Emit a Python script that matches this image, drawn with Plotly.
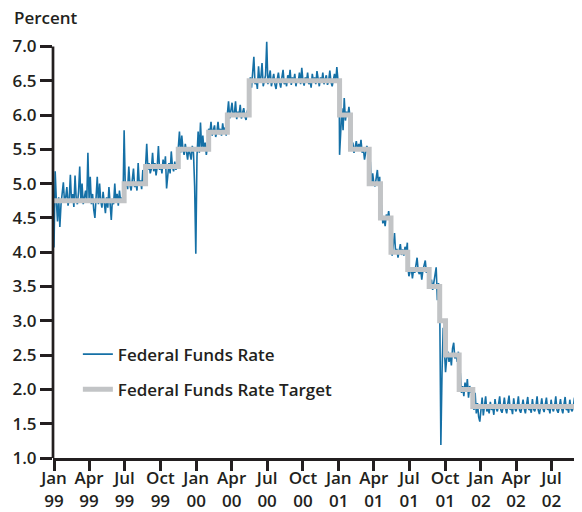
import pandas as pd
import plotly.graph_objects as go

# ---- Data ----
# Federal funds target changes (date the target took effect, level in percent)
target_dates = ["1999-01-01", "1999-06-30", "1999-08-24", "1999-11-16", "2000-02-02",
                "2000-03-21", "2000-05-16", "2001-01-03", "2001-01-31", "2001-03-20",
                "2001-04-18", "2001-05-15", "2001-06-27", "2001-08-21", "2001-09-17",
                "2001-10-02", "2001-11-06", "2001-12-11", "2002-09-17"]
target_values = [4.75, 5.00, 5.25, 5.50, 5.75, 6.00, 6.50, 6.00, 5.50, 5.00,
                 4.50, 4.00, 3.75, 3.50, 3.00, 2.50, 2.00, 1.75, 1.75]

# Effective federal funds rate, sampled every 3 days within each target period
rate_1999_h1 = [4.07, 5.18, 4.75, 4.45, 4.80, 4.37, 4.70, 4.85, 5.02, 4.72,
                4.80, 4.95, 4.68, 4.78, 5.13, 4.72, 4.85, 4.66, 5.12, 4.78,
                4.70, 4.88, 5.25, 4.74, 5.00, 4.70, 4.80, 4.90, 4.72, 5.45,
                4.78, 5.10, 4.70, 4.85, 4.62, 4.50, 4.80, 5.10, 4.70, 5.00,
                4.75, 4.65, 4.88, 4.72, 4.57, 4.80, 4.65, 4.95, 4.72, 4.47,
                4.78, 4.70, 5.00, 4.72, 4.85, 4.68, 4.90, 4.74, 4.80, 4.72]
rate_1999_jul = [5.78, 4.95, 5.02, 4.92, 5.25, 4.98, 4.90, 5.05, 5.22, 4.95,
                 5.02, 4.90, 5.30, 4.98, 5.05, 4.92, 5.20, 5.00, 5.10]
rate_1999_sep = [5.25, 5.58, 5.20, 5.30, 5.15, 5.22, 5.45, 5.18, 5.30, 5.12,
                 5.25, 5.55, 5.20, 5.28, 5.15, 5.35, 5.22, 5.40, 4.93, 5.20,
                 5.30, 5.15, 5.47, 5.25, 5.18, 5.32, 5.20, 5.28]
rate_1999_dec = [5.55, 5.76, 5.45, 5.70, 5.50, 5.42, 5.58, 5.48, 5.35, 5.52,
                 5.40, 5.35, 5.55, 5.45, 4.96, 3.98, 5.40, 5.76, 5.45, 5.89,
                 5.50, 5.70, 5.48, 5.60, 5.42, 5.55]
rate_2000_feb = [5.80, 5.72, 5.90, 5.70, 5.78, 5.85, 5.68, 5.75, 5.90, 5.72,
                 5.80, 5.70, 5.88, 5.74, 5.82, 5.70]
rate_2000_apr = [6.02, 6.20, 5.95, 6.05, 6.18, 5.98, 6.02, 6.20, 5.94, 6.05,
                 6.00, 6.15, 5.95, 6.03, 6.10, 5.98, 5.93, 6.05, 6.12]
rate_2000_h2 = [6.45, 6.55, 6.40, 6.60, 6.85, 6.45, 6.52, 6.38, 6.71, 6.48,
                6.55, 6.76, 6.42, 6.50, 6.58, 7.07, 6.45, 6.55, 6.65, 6.42,
                6.50, 6.60, 6.45, 6.38, 6.52, 6.62, 6.48, 6.40, 6.55, 6.66,
                6.45, 6.52, 6.42, 6.58, 6.50, 6.66, 6.44, 6.55, 6.48, 6.60,
                6.42, 6.52, 6.48, 6.62, 6.45, 6.69, 6.50, 6.43, 6.55, 6.48,
                6.62, 6.45, 6.52, 6.40, 6.60, 6.48, 6.55, 6.45, 6.64, 6.50,
                6.42, 6.55, 6.48, 6.62, 6.45, 6.52, 6.58, 6.44, 6.50, 6.65,
                6.48, 6.42, 6.55, 6.60, 6.47, 6.70, 6.50, 6.40]
rate_2001_jan = [5.42, 5.90, 6.10, 5.78, 6.25, 5.92, 6.05, 5.98, 6.12, 5.95]
rate_2001_feb = [5.55, 5.48, 5.60, 5.45, 5.52, 5.62, 5.48, 5.58, 5.50, 5.64,
                 5.45, 5.52, 5.35, 5.48, 5.55, 5.50]
rate_2001_apr = [5.05, 5.32, 4.98, 5.15, 5.00, 4.96, 5.08, 5.20, 4.98, 5.10]
rate_2001_may = [4.55, 4.69, 4.42, 4.50, 4.38, 4.55, 4.48, 4.60, 4.45]
rate_2001_jun = [4.05, 3.95, 4.10, 4.28, 3.98, 4.05, 3.92, 4.02, 4.12, 3.96,
                 4.04, 3.95, 4.08, 4.00, 4.14]
rate_2001_jul = [3.80, 3.65, 3.72, 3.78, 3.62, 3.75, 3.70, 3.85, 3.92, 3.72,
                 3.68, 3.76, 3.60, 3.74, 3.80, 3.88, 3.70, 3.75, 3.66]
rate_2001_aug = [3.55, 3.50, 3.60, 3.45, 3.55, 3.65, 3.78, 3.30, 3.55]
rate_2001_sep = [3.30, 1.19, 2.25, 2.90, 2.60]
rate_2001_oct = [2.25, 2.45, 2.55, 2.40, 2.50, 2.35, 2.60, 2.68, 2.45, 2.52,
                 2.40, 2.55]
rate_2001_nov = [2.10, 2.24, 1.95, 2.05, 1.90, 2.10, 1.98, 2.15, 1.88, 2.05,
                 1.95, 2.02]
rate_2002 = [1.85, 1.70, 1.95, 1.65, 1.80, 1.60, 1.53, 1.70, 1.88, 1.62,
             1.75, 1.90, 1.68, 1.72, 1.65, 1.82, 1.70, 1.74, 1.63, 1.86,
             1.72, 1.68, 1.78, 1.90, 1.70, 1.66, 1.75, 1.88, 1.72, 1.65,
             1.80, 1.91, 1.70, 1.74, 1.64, 1.87, 1.72, 1.68, 1.76, 1.90,
             1.70, 1.66, 1.74, 1.85, 1.72, 1.65, 1.78, 1.89, 1.70, 1.73,
             1.66, 1.86, 1.71, 1.68, 1.75, 1.90, 1.70, 1.64, 1.74, 1.87,
             1.72, 1.67, 1.78, 1.88, 1.70, 1.74, 1.65, 1.85, 1.72, 1.68,
             1.76, 1.90, 1.70, 1.66, 1.74, 1.86, 1.72, 1.65, 1.78, 1.89,
             1.70, 1.73, 1.66, 1.85, 1.71, 1.68, 1.75, 1.88, 1.70, 1.65,
             1.74, 1.86, 1.72, 1.70]

rate_segments = [rate_1999_h1, rate_1999_jul, rate_1999_sep, rate_1999_dec,
                 rate_2000_feb, rate_2000_apr, rate_2000_h2, rate_2001_jan,
                 rate_2001_feb, rate_2001_apr, rate_2001_may, rate_2001_jun,
                 rate_2001_jul, rate_2001_aug, rate_2001_sep, rate_2001_oct,
                 rate_2001_nov, rate_2002]

tick_dates = pd.date_range("1999-01-01", "2002-07-01", freq="QS")
tick_labels = [f"{d.strftime('%b')}<br>{d.strftime('%y')}" for d in tick_dates]
y_ticks = [1.0, 1.5, 2.0, 2.5, 3.0, 3.5, 4.0, 4.5, 5.0, 5.5, 6.0, 6.5, 7.0]

# ---- Build series ----
rate_x, rate_y = [], []
for start, vals in zip(target_dates[:-1], rate_segments):
    rate_x.extend(pd.date_range(start, periods=len(vals), freq="3D"))
    rate_y.extend(vals)

INK = "#231f20"
FONT = "Open Sans"
FSIZE = 17
XRANGE = ["1998-12-29 10:00", "2002-09-17 07:00"]

fig = go.Figure()
fig.add_trace(go.Scatter(x=rate_x, y=rate_y, mode="lines", name="Federal Funds Rate",
                         line=dict(color="#1570a6", width=1.6), legend="legend",
                         xaxis="x", yaxis="y"))
# target drawn on the overlaid axis so it sits on top of the daily rate
fig.add_trace(go.Scatter(x=pd.to_datetime(target_dates), y=target_values, mode="lines",
                         name="Federal Funds Rate Target", line_shape="hv",
                         line=dict(color="#c2c4c6", width=5), legend="legend2",
                         xaxis="x2", yaxis="y"))

tfont = dict(family=FONT, size=FSIZE, color=INK, weight=600)
legend_style = dict(font=tfont, bgcolor="rgba(0,0,0,0)",
                    xanchor="left", yanchor="middle", x=0.047)

# the page adds an 8px body margin, so the figure is 8px smaller than the window
fig.update_layout(
    width=574, height=504,
    margin=dict(l=45, r=0, t=33, b=54, autoexpand=False),
    paper_bgcolor="white", plot_bgcolor="white",
    font=tfont,
    showlegend=True,
    legend=dict(**legend_style, y=0.248),
    legend2=dict(**legend_style, y=0.164),
    # axis with tick marks only
    xaxis=dict(range=XRANGE, tickvals=tick_dates, showticklabels=False,
               ticks="outside", ticklen=10, tickwidth=2.7,
               tickcolor=INK, showline=True, linewidth=2.7, linecolor=INK,
               showgrid=False, zeroline=False, automargin=False),
    # overlaid axis carrying the two-line tick labels
    xaxis2=dict(range=XRANGE, overlaying="x", matches="x", anchor="y", side="bottom",
                tickvals=tick_dates, ticktext=tick_labels, ticks="outside", ticklen=5,
                tickcolor="rgba(0,0,0,0)", showline=False, showgrid=False,
                zeroline=False, automargin=False, tickfont=tfont),
    yaxis=dict(range=[1.0, 7.08], tickvals=y_ticks, ticktext=[f"{v:.1f}" for v in y_ticks],
               ticks="outside", ticklen=12, tickwidth=2.7, tickcolor=INK,
               showline=False, showgrid=False, zeroline=False, automargin=False,
               tickfont=tfont),
    shapes=[dict(type="line", xref="paper", yref="y", x0=0, x1=0, y0=1.0, y1=7.0,
                 line=dict(color=INK, width=2.7))],
    annotations=[dict(text="Percent", xref="paper", yref="paper", x=-0.0775, y=1.056,
                      xanchor="left", yanchor="middle", showarrow=False, font=tfont)],
)

fig.write_html("out.html")
